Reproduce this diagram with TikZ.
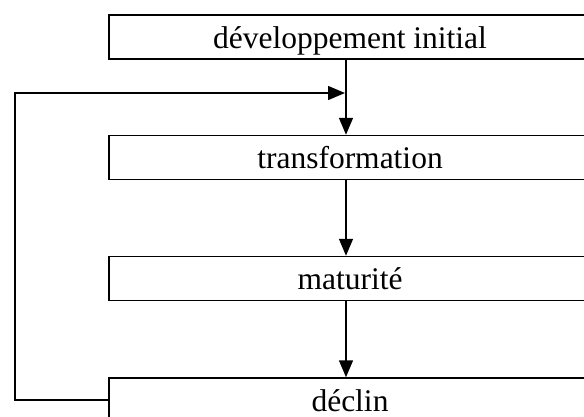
\documentclass[tikz,border=0pt]{standalone}
\usepackage{fontspec}
\setmainfont{Liberation Serif}
\usetikzlibrary{arrows.meta}

\begin{document}
\begin{tikzpicture}[x=1pt,y=-1pt,
  stage/.style={draw,line width=1.5pt,minimum width=482pt,inner sep=0pt,
    text height=33pt,text depth=11pt,font=\fontsize{31.5}{36}\selectfont},
  arr/.style={line width=1.5pt,-{Triangle[length=17pt,width=14pt]}}]
\clip (0,0) rectangle (584,416);

% Draw the stages
\node[stage] (dev) at (350,37) {développement initial};
\node[stage] (trans) at (350,157.5) {transformation};
\node[stage] (mat) at (350,278.5) {maturité};
\node[stage] (decl) at (350,400) {déclin};

% Arrows down
\draw[arr] ([xshift=-4pt]dev.south) -- ([xshift=-4pt]trans.north);
\draw[arr] ([xshift=-4pt]trans.south) -- ([xshift=-4pt]mat.north);
\draw[arr] ([xshift=-4pt]mat.south) -- ([xshift=-4pt]decl.north);

% Feedback loop
\coordinate (fb) at (15,93);
\coordinate (join) at (345,93);
\draw[arr] (decl.west) -| (fb) -- (join);
\end{tikzpicture}
\end{document}
